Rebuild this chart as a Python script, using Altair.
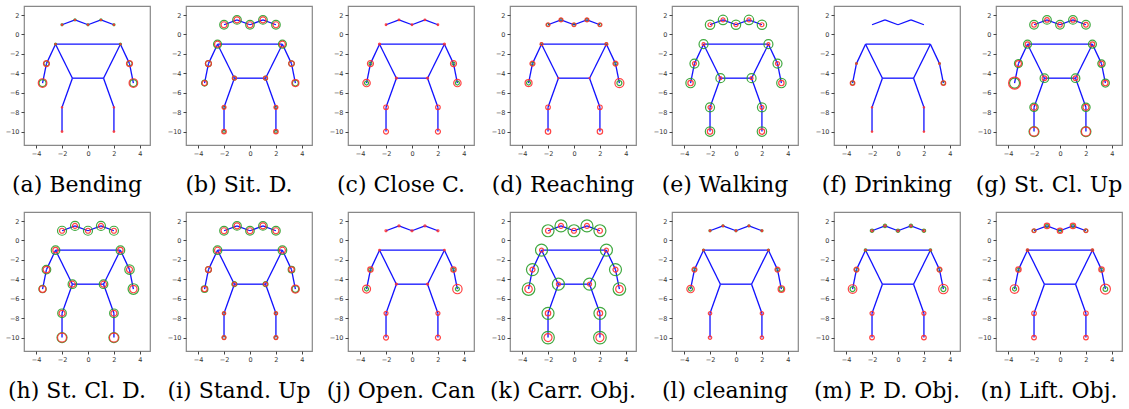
import altair as alt
import pandas as pd

captions = ["(a) Bending", "(b) Sit. D.", "(c) Close C.", "(d) Reaching", "(e) Walking",
            "(f) Drinking", "(g) St. Cl. Up", "(h) St. Cl. D.", "(i) Stand. Up",
            "(j) Open. Can", "(k) Carr. Obj.", "(l) cleaning", "(m) P. D. Obj.", "(n) Lift. Obj."]

# joints: 5 head points, shoulders, elbows, wrists, hips, knees, ankles
joint_x = [-2, -1, 0, 1, 2, -2.5, 2.5, -3.2, 3.2, -3.5, 3.5, -1.2, 1.2, -2, 2, -2, 2]
joint_y = [1, 1.5, 1, 1.5, 1, -1, -1, -3, -3, -5, -5, -4.5, -4.5, -7.5, -7.5, -10, -10]
edges = [(0, 1), (1, 2), (2, 3), (3, 4), (5, 6), (5, 7), (7, 9), (6, 8), (8, 10),
         (5, 11), (6, 12), (11, 12), (11, 13), (13, 15), (12, 14), (14, 16)]

# attention weights (drawn as ring radius) per panel, per joint
red_att = [
    [0.6]*5 + [0.6, 0.6, 3.0, 3.0, 4.3, 4.3, 0, 0, 0.7, 0.7, 0.8, 0.8],
    [3.0]*5 + [3.0, 3.0, 3.0, 2.8, 2.5, 3.5, 2.0, 2.0, 2.0, 2.0, 2.3, 2.3],
    [0.8]*5 + [1.0, 1.0, 3.0, 3.0, 3.7, 3.7, 1.0, 1.0, 2.3, 2.3, 2.5, 2.5],
    [2.0]*5 + [1.5, 1.5, 2.5, 2.5, 3.5, 4.5, 0.5, 0.5, 2.3, 2.3, 2.7, 2.7],
    [2.0]*5 + [1.5, 1.5, 2.0, 2.0, 2.7, 2.7, 1.5, 1.5, 2.0, 2.0, 2.7, 2.7],
    [0]*5 + [0, 0, 0.8, 0.8, 2.3, 2.3, 0, 0, 0.7, 0.7, 0.7, 0.7],
    [2.3]*5 + [2.3, 2.3, 3.0, 2.5, 6.0, 2.7, 2.3, 2.3, 3.0, 3.0, 4.5, 4.5],
    [2.5]*5 + [2.7, 2.7, 3.3, 3.0, 3.3, 3.7, 3.0, 3.0, 3.0, 3.0, 4.5, 4.5],
    [3.0]*5 + [3.0, 3.0, 3.0, 2.7, 2.7, 4.0, 2.0, 2.0, 1.7, 1.7, 2.0, 2.0],
    [1.0]*5 + [0.8, 0.8, 2.7, 2.7, 4.0, 4.7, 1.0, 1.0, 2.0, 2.0, 2.5, 2.5],
    [2.5]*5 + [2.0, 2.0, 2.5, 2.5, 3.7, 3.7, 2.0, 2.0, 2.7, 2.7, 4.0, 4.0],
    [0.8]*5 + [0.8, 0.8, 2.5, 2.5, 3.7, 3.3, 0, 0, 1.7, 1.7, 1.7, 1.7],
    [1.0]*5 + [0.8, 0.8, 2.5, 2.5, 4.3, 4.7, 0, 0, 2.0, 2.0, 2.3, 2.3],
    [2.0, 2.7, 2.7, 2.7, 2.0] + [1.3, 1.3, 2.7, 2.7, 4.3, 5.0, 0, 0, 2.3, 2.3, 2.3, 2.3],
]
green_att = [
    [1.0]*5 + [1.0, 1.0, 2.6, 2.6, 3.5, 3.5, 0, 0, 0, 0, 0, 0],
    [4.3]*5 + [4.0, 4.0, 3.0, 2.8, 3.0, 3.0, 2.0, 2.0, 1.5, 1.5, 1.5, 1.5],
    [0]*5 + [0, 0, 1.5, 1.5, 2.0, 2.0, 0, 0, 0, 0, 0, 0],
    [1.5]*5 + [1.2, 1.2, 1.7, 1.7, 2.0, 2.5, 0, 0, 0, 0, 0, 0],
    [4.7]*5 + [4.5, 4.5, 4.5, 4.5, 4.7, 4.7, 4.5, 4.5, 4.5, 4.5, 4.7, 4.7],
    [0]*5 + [0, 0, 0.8, 0.8, 2.0, 2.0, 0, 0, 0, 0, 0, 0],
    [4.3]*5 + [4.0, 4.0, 4.0, 3.7, 5.0, 4.0, 4.3, 4.3, 4.2, 4.2, 5.0, 5.0],
    [4.5]*5 + [4.3, 4.3, 4.3, 4.7, 3.7, 5.3, 4.3, 4.3, 4.3, 4.3, 5.0, 5.0],
    [4.3]*5 + [4.3, 4.3, 3.0, 3.3, 3.3, 3.3, 2.5, 2.5, 1.5, 1.5, 1.8, 1.8],
    [0]*5 + [0, 0, 1.7, 1.7, 2.0, 2.0, 0, 0, 0, 0, 0, 0],
    [6.0]*5 + [6.0, 6.0, 6.0, 6.0, 6.3, 6.3, 6.0, 6.0, 6.0, 6.0, 6.3, 6.3],
    [1.0]*5 + [1.0, 1.0, 1.8, 1.8, 2.0, 2.3, 0, 0, 0, 0, 0, 0],
    [1.7]*5 + [1.3, 1.3, 2.0, 2.0, 2.5, 2.5, 0, 0, 0, 0, 0, 0],
    [1.7]*5 + [1.0, 1.0, 1.7, 1.7, 2.0, 2.3, 0, 0, 0, 0, 0, 0],
]

x_ticks = [-4, -2, 0, 2, 4]
y_ticks = [-10, -8, -6, -4, -2, 0, 2]

edge_rows = []
for k, (a, b) in enumerate(edges):
    edge_rows.append(dict(edge=k, seq=0, x=joint_x[a], y=joint_y[a]))
    edge_rows.append(dict(edge=k, seq=1, x=joint_x[b], y=joint_y[b]))
edge_df = pd.DataFrame(edge_rows)

ring_rows = []
for p in range(len(captions)):
    for ring, table in (("green", green_att), ("red", red_att)):
        for j in range(len(joint_x)):
            w = table[p][j]
            if w > 0:
                ring_rows.append(dict(panel=p, ring=ring, joint=j, x=joint_x[j], y=joint_y[j], w=w))
ring_df = pd.DataFrame(ring_rows)

xs = alt.Scale(domain=[-4.93, 4.78], nice=False, zero=False)
ys = alt.Scale(domain=[-11.38, 2.93], nice=False, zero=False)
ax_x = alt.Axis(values=x_ticks, title=None, minExtent=12, maxExtent=12)
ax_y = alt.Axis(values=y_ticks, title=None, minExtent=20, maxExtent=20)
size_scale = alt.Scale(type="pow", exponent=2, domain=[0, 6.5], range=[0, 169])


def panel(p):
    lines = alt.Chart(edge_df).mark_line(color="#1010ff", strokeWidth=1.3).encode(
        x=alt.X("x:Q", scale=xs, axis=ax_x),
        y=alt.Y("y:Q", scale=ys, axis=ax_y),
        detail="edge:N",
        order="seq:Q",
    )
    layers = [lines]
    for ring, col in (("green", "#2ca02c"), ("red", "#ff3030")):
        layers.append(
            alt.Chart(ring_df).transform_filter(
                (alt.datum.panel == p) & (alt.datum.ring == ring)
            ).mark_point(shape="circle", filled=False, strokeWidth=1.2, color=col, opacity=0.9).encode(
                x=alt.X("x:Q", scale=xs, axis=ax_x),
                y=alt.Y("y:Q", scale=ys, axis=ax_y),
                size=alt.Size("w:Q", scale=size_scale, legend=None),
            )
        )
    return alt.layer(*layers).properties(
        width=126,
        height=139,
        title=alt.TitleParams(
            text=captions[p], orient="bottom", font="DejaVu Serif", fontSize=22,
            fontWeight="normal", color="black", offset=18, anchor="middle", frame="bounds",
        ),
    )


chart = alt.concat(
    *[panel(p) for p in range(len(captions))],
    columns=7,
    spacing=alt.RowColnumber(row=67, column=36),
    bounds="flush",
).properties(
    padding={"left": 3, "top": 5, "right": 0, "bottom": 0},
).configure_axis(
    labelFontSize=6.5, labelColor="#333", labelFont="DejaVu Sans", tickColor="#444",
    tickSize=3, domain=False, grid=False, labelPadding=2,
).configure_view(
    stroke="#888", strokeWidth=1.2,
)

chart.save("out.html", embed_options={"renderer": "svg", "actions": False})
